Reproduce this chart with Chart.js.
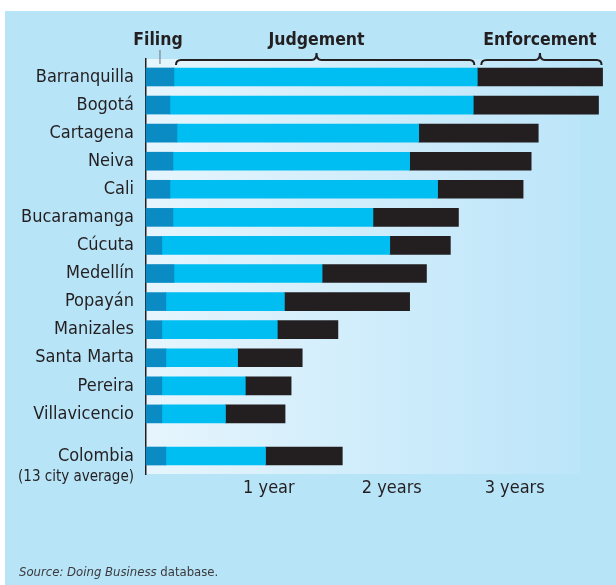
<!DOCTYPE html>
<html>
<head>
<meta charset="utf-8">
<script src="https://cdn.jsdelivr.net/npm/chart.js@4.4.0/dist/chart.umd.min.js"></script>
<style>
  html, body { margin: 0; padding: 0; background: #fff; }
  #wrap { width: 616px; height: 585px; position: relative; }
</style>
</head>
<body>
<div id="wrap"><canvas id="myChart" width="616" height="585"></canvas></div>
<script>
// days needed for each stage of enforcing a contract
const cities = ['Barranquilla', 'Bogotá', 'Cartagena', 'Neiva', 'Cali', 'Bucaramanga', 'Cúcuta',
  'Medellín', 'Popayán', 'Manizales', 'Santa Marta', 'Pereira', 'Villavicencio', 'Colombia'];
const filingDays = [83, 71, 92, 80, 71, 80, 47, 83, 59, 47, 59, 47, 47, 59];
const judgementDays = [901, 901, 718, 703, 795, 594, 677, 440, 352, 343, 213, 248, 189, 296];
const enforcementDays = [372, 372, 355, 361, 254, 254, 180, 310, 372, 180, 192, 136, 177, 228];
const tickDays = [365, 730, 1095];
const tickLabels = ['1 year', '2 years', '3 years'];
const stageNames = ['Filing', 'Judgement', 'Enforcement'];
const averageNote = '(13 city average)';

const FONT = "'Liberation Sans Narrow', 'DejaVu Sans Condensed', sans-serif";
const INK = '#231f20';

// the average row sits half a row further down
const rows = cities.map((c, i) => (i < cities.length - 1 ? i : i + 0.5));

const toPoints = (vals) => vals.map((v, i) => ({ x: v, y: rows[i] }));

function brace(ctx, x1, x2, peakX, yLine, yTip, yPeak) {
  ctx.beginPath();
  ctx.moveTo(x1, yTip);
  ctx.quadraticCurveTo(x1, yLine, x1 + 5, yLine);
  ctx.lineTo(peakX - 5, yLine);
  ctx.quadraticCurveTo(peakX, yLine, peakX, yPeak);
  ctx.quadraticCurveTo(peakX, yLine, peakX + 5, yLine);
  ctx.lineTo(x2 - 5, yLine);
  ctx.quadraticCurveTo(x2, yLine, x2, yTip);
  ctx.stroke();
}

const decor = {
  id: 'decor',
  beforeDraw(chart) {
    const { ctx, chartArea: a } = chart;
    ctx.save();
    ctx.fillStyle = '#ffffff';
    ctx.fillRect(0, 0, chart.width, chart.height);
    ctx.fillStyle = '#b8e4f8';
    ctx.fillRect(5, 11, chart.width - 5, chart.height - 11);
    const g = ctx.createLinearGradient(a.left, 0, a.right, 0);
    g.addColorStop(0, '#e6f5fd');
    g.addColorStop(1, '#bce5f9');
    ctx.fillStyle = g;
    ctx.fillRect(a.left, a.top, a.right - a.left, a.bottom - a.top);
    ctx.restore();
  },
  afterDraw(chart) {
    const { ctx } = chart;
    const x = chart.scales.x;
    const y = chart.scales.y;
    ctx.save();
    // header braces follow the first (longest) bar
    const f0 = filingDays[0];
    const j0 = f0 + judgementDays[0];
    const e0 = j0 + enforcementDays[0];
    const xs = [x.getPixelForValue(0), x.getPixelForValue(f0), x.getPixelForValue(j0), x.getPixelForValue(e0)];
    const jPeak = xs[1] + (xs[2] - xs[1]) * 0.47;
    const ePeak = (xs[2] + xs[3]) / 2;
    ctx.strokeStyle = INK;
    ctx.lineWidth = 2;
    brace(ctx, xs[1] + 2, xs[2] - 3, jPeak, 60, 65, 53);
    brace(ctx, xs[2] + 4, xs[3] - 1, ePeak, 60, 65, 53);
    const fMid = (xs[0] + xs[1]) / 2;
    ctx.strokeStyle = '#6d6e71';
    ctx.lineWidth = 1;
    ctx.beginPath();
    ctx.moveTo(fMid, 50);
    ctx.lineTo(fMid, 64);
    ctx.stroke();

    ctx.fillStyle = INK;
    ctx.font = 'bold 17.5px ' + FONT;
    ctx.textAlign = 'center';
    ctx.textBaseline = 'alphabetic';
    ctx.fillText(stageNames[0], fMid - 2, 45);
    ctx.fillText(stageNames[1], jPeak, 45);
    ctx.fillText(stageNames[2], ePeak, 45);

    // second line under the average label
    ctx.font = '15px ' + FONT;
    ctx.textAlign = 'right';
    ctx.textBaseline = 'middle';
    ctx.fillText(averageNote, chart.chartArea.left - 12, y.getPixelForValue(rows[rows.length - 1]) + 21);

    // source line
    ctx.textAlign = 'left';
    ctx.textBaseline = 'alphabetic';
    ctx.fillStyle = '#3a3a3c';
    ctx.font = 'italic 13px ' + FONT;
    const src = 'Source: Doing Business';
    ctx.fillText(src, 19, 576);
    const w = ctx.measureText(src).width;
    ctx.font = '13px ' + FONT;
    ctx.fillText(' database.', 19 + w, 576);
    ctx.restore();
  }
};

const ctx = document.getElementById('myChart').getContext('2d');
const myChart = new Chart(ctx, {
  type: 'bar',
  data: {
    datasets: [
      { label: stageNames[0], data: toPoints(filingDays), backgroundColor: '#0a8bc4' },
      { label: stageNames[1], data: toPoints(judgementDays), backgroundColor: '#00bef2' },
      { label: stageNames[2], data: toPoints(enforcementDays), backgroundColor: INK },
    ],
  },
  options: {
    indexAxis: 'y',
    responsive: false,
    animation: false,
    events: [],
    datasets: { bar: { barThickness: 18, borderWidth: 0, clip: false } },
    layout: { padding: { top: 59, right: 36, bottom: 81, left: 0 } },
    plugins: { legend: { display: false }, tooltip: { enabled: false } },
    scales: {
      x: {
        type: 'linear',
        stacked: true,
        min: 0,
        max: 1289,
        afterBuildTicks: (scale) => { scale.ticks = tickDays.map((v) => ({ value: v })); },
        afterFit: (scale) => { scale.height = 30; },
        grid: { display: false, drawTicks: false },
        border: { display: false },
        ticks: {
          padding: 4,
          color: INK,
          font: { family: FONT, size: 18 },
          callback: (v, i) => tickLabels[i],
        },
      },
      y: {
        type: 'linear',
        stacked: true,
        reverse: true,
        offset: false,
        min: -0.64,
        max: 14.14,
        afterBuildTicks: (scale) => { scale.ticks = rows.map((v) => ({ value: v })); },
        afterFit: (scale) => { scale.width = 146; },
        grid: { display: false, drawTicks: false, offset: false },
        border: { display: true, color: INK, width: 1.5 },
        ticks: {
          padding: 12,
          color: INK,
          font: { family: FONT, size: 18 },
          callback: (v, i) => cities[i],
        },
      },
    },
  },
  plugins: [decor],
});
</script>
</body>
</html>
